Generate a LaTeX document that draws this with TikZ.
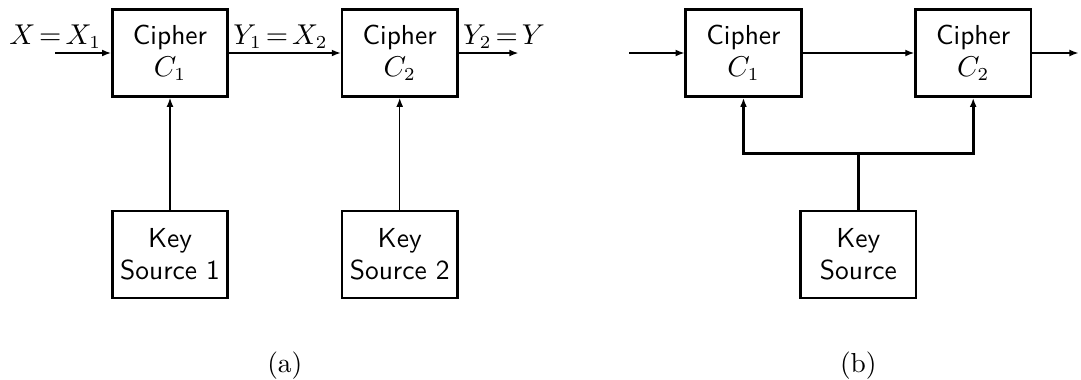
\documentclass[tikz,border=0pt]{standalone}
\usepackage{amsmath,amssymb}
\usepackage{tikz}
\usetikzlibrary{arrows.meta,positioning,calc}

\begin{document}
\begin{tikzpicture}[
		node distance=1.5cm,
		font=\fontsize{10.5}{12.2}\selectfont,
		blk/.style={draw, line width=1pt, minimum width=1.55cm, minimum height=1.17cm, align=center, font=\fontsize{10.5}{12.2}\selectfont\sffamily, inner sep=1pt},
		eqn/.style={inner sep=1.5pt, execute at begin node={\thickmuskip=2.5mu}},
		sig/.style={-{Latex[length=3.4pt,width=2.6pt]}, line width=0.5pt},
		feed/.style={-{Latex[length=3.4pt,width=2.6pt]}, line width=1pt}
	]
	\useasboundingbox (0,0) rectangle (14.518,-5.103);

	% (a) separate keys
	\node[blk] (c1a) at (2.283,-0.712) {Cipher\\$C_1$};
	\node[blk, right=of c1a] (c2a) {Cipher\\$C_2$};
	\node[blk, below=of c1a] (k1a) {Key\\Source 1};
	\node[blk, below=of c2a] (k2a) {Key\\Source 2};
	\coordinate[left=0.75cm of c1a.west] (ina);
	\coordinate[right=0.8cm of c2a.east] (outa);

	\draw[sig] (ina) -- (c1a);
	\draw[sig] (c1a) -- (c2a);
	\draw[sig] (c2a) -- (outa);
	\draw[sig] (k1a) -- (c1a);
	\draw[sig] (k2a) -- (c2a);

	\node[eqn, above] (lxa) at (ina) {$X=X_1$};
	\node[eqn, above right] (ly1a) at (c1a.east) {$Y_1=X_2$};
	\node[eqn, above right] (ly2a) at (c2a.east) {$Y_2=Y$};
	\node[below=0.58cm of $(k1a.south)!0.5!(k2a.south)$] (capa) {(a)};

	% (b) one key for both
	\node[blk] (c1b) at (9.985,-0.712) {Cipher\\$C_1$};
	\node[blk, right=of c1b] (c2b) {Cipher\\$C_2$};
	\coordinate (mb) at ($(c1b.south)!0.5!(c2b.south)$);
	\node[blk, below=of mb] (kb) {Key\\Source};
	\coordinate (jb) at ($(mb)!0.5!(kb.north)$);
	\coordinate[left=0.74cm of c1b.west] (inb);
	\coordinate[right=0.62cm of c2b.east] (outb);

	\draw[sig] (inb) -- (c1b);
	\draw[sig] (c1b) -- (c2b);
	\draw[sig] (c2b) -- (outb);
	\draw[line width=1pt] (kb) -- (jb);
	\draw[feed] (jb) -| (c1b);
	\draw[feed] (jb) -| (c2b);

	\node[below=0.58cm of kb] (capb) {(b)};
\end{tikzpicture}
\end{document}
